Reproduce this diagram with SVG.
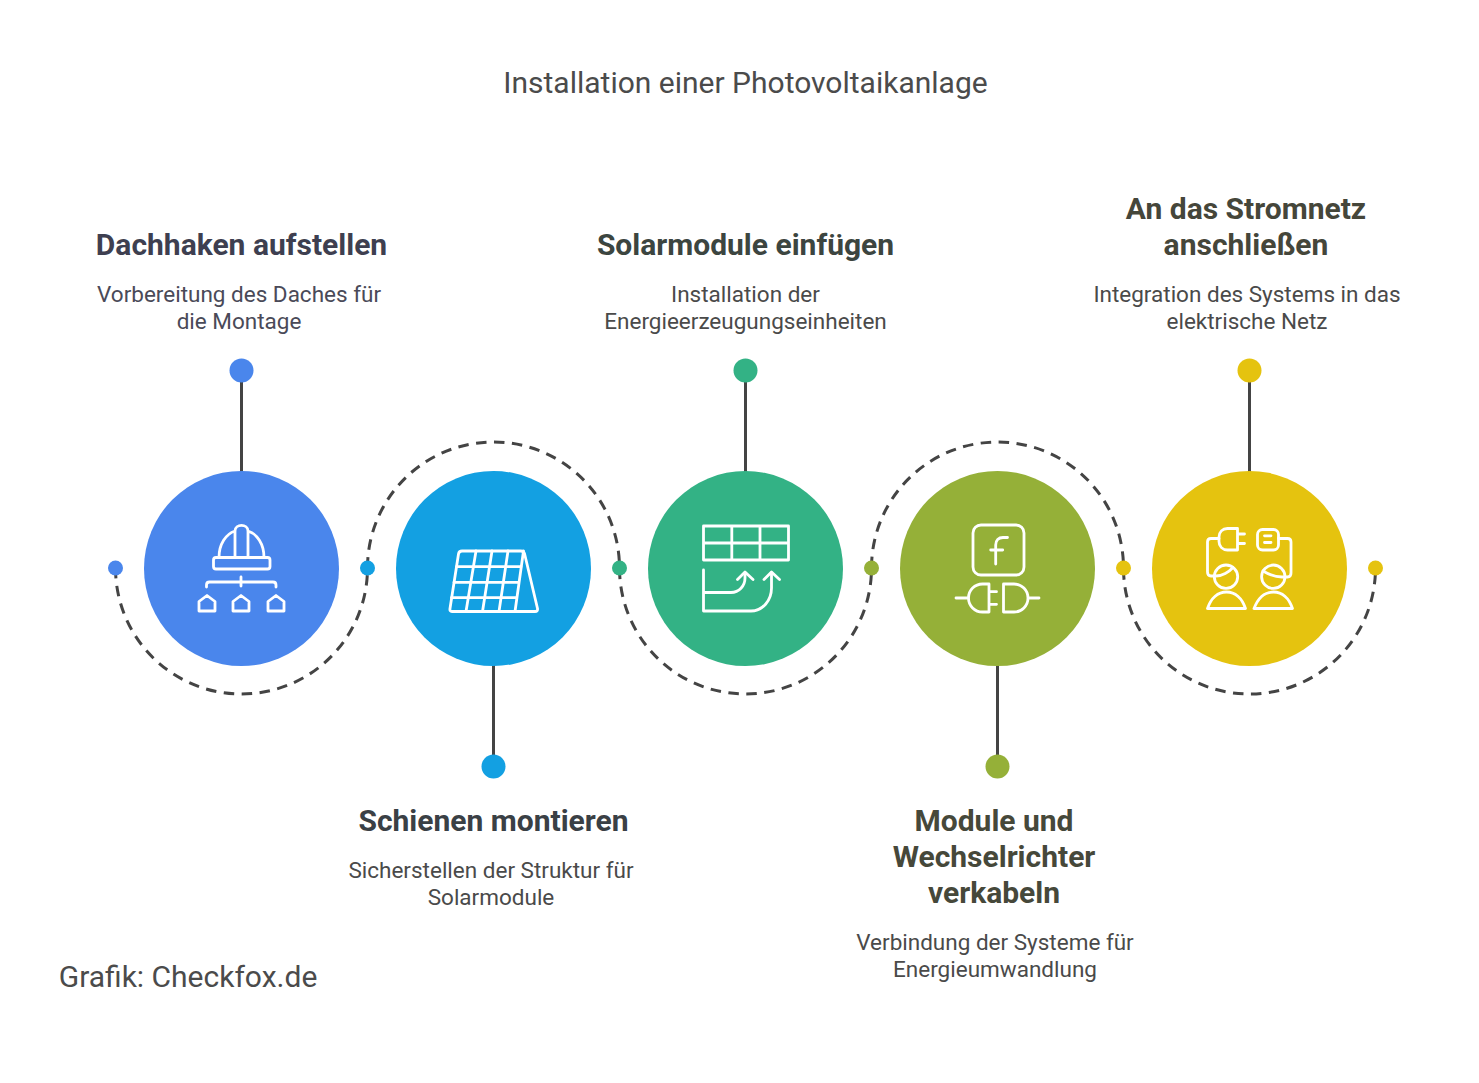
<svg xmlns="http://www.w3.org/2000/svg" width="1479" height="1083" viewBox="0 0 1479 1083">
<style>
text{font-family:Roboto,"Liberation Sans",sans-serif;text-anchor:middle}
.t{font-size:30px;fill:#4b4b4b}
.h{font-size:30px;font-weight:700}
.b{font-size:22.500px;fill:#4a4a4a}
.ic{fill:none;stroke:#fff;stroke-width:2.800;stroke-linecap:round;stroke-linejoin:round}
.st{stroke:#444;stroke-width:3;fill:none}
.da{stroke:#444;stroke-width:3;fill:none;stroke-dasharray:10.5 7.5}
</style>
<rect width="1479" height="1083" fill="#fff"/>
<text class="t" x="745.500" y="93">Installation einer Photovoltaikanlage</text>
<text x="188" y="987" style="font-size:30px;fill:#4b4b4b">Grafik: Checkfox.de</text>
<g id="connectors">
<path class="da" d="M115.500 568A126 126 0 0 0 367.500 568A126 126 0 0 1 619.500 568A126 126 0 0 0 871.500 568A126 126 0 0 1 1123.500 568A126 126 0 0 0 1375.500 568"/>
<path class="st" d="M241.500 370V472M493.500 665V766M745.500 370V472M997.500 665V766M1249.500 370V472"/>
<circle cx="115.500" cy="568" r="7.500" fill="#4a86ec"/>
<circle cx="367.500" cy="568" r="7.500" fill="#13a0e2"/>
<circle cx="619.500" cy="568" r="7.500" fill="#33b285"/>
<circle cx="871.500" cy="568" r="7.500" fill="#95b038"/>
<circle cx="1123.500" cy="568" r="7.500" fill="#e5c30f"/>
<circle cx="1375.500" cy="568" r="7.500" fill="#e5c30f"/>
</g>
<g id="node1">
<circle cx="241.500" cy="568.500" r="97.500" fill="#4a86ec"/>
<circle cx="241.500" cy="370.500" r="12" fill="#4a86ec"/>
<g class="ic">
<rect x="213.500" y="557.500" width="56.500" height="11.500" rx="2.500"/>
<path d="M219 557.500C219 544 226 534 235 531M264 557.500C264 544 257 534 248 531M235 557.500V531C235 523.500 248 523.500 248 531V557.500"/>
<path d="M206.500 587V585Q206.500 582 209.500 582H273Q276 582 276 585V587M241 577V586"/>
<path d="M199 611V601.500L207 595.500L215 601.500V611ZM233 611V601.500L241 595.500L249 601.500V611ZM268 611V601.500L276 595.500L284 601.500V611Z"/>
</g>
<text class="h" x="241.500" y="255" fill="#3e3f50">Dachhaken aufstellen</text>
<text class="b" x="239" y="301.500" style="fill:#4a4a58">Vorbereitung des Daches für</text>
<text class="b" x="239" y="328.500" style="fill:#4a4a58">die Montage</text>
</g>
<g id="node2">
<circle cx="493.500" cy="568.500" r="97.500" fill="#13a0e2"/>
<circle cx="493.500" cy="766.500" r="12" fill="#13a0e2"/>
<g class="ic">
<path d="M462 551H521Q523.500 551 524.500 553.500L537.500 608.500Q538 611.500 535 611.500H452Q449.500 611.500 450 608.500L458.500 554Q459 551 462 551Z"/>
<path d="M456.500 566.700H521.500M454 582.300H519M451.500 597.700H517M476 551L466 611.500M492 551L482.500 611.500M508 551L499 611.500M523.500 551L515 611.500"/>
</g>
<text class="h" x="493.500" y="831" fill="#3a4045">Schienen montieren</text>
<text class="b" x="491" y="877.500">Sicherstellen der Struktur für</text>
<text class="b" x="491" y="904.500">Solarmodule</text>
</g>
<g id="node3">
<circle cx="745.500" cy="568.500" r="97.500" fill="#33b285"/>
<circle cx="745.500" cy="370.500" r="12" fill="#33b285"/>
<g class="ic">
<path d="M703.500 526H788.500V560H703.500ZM703.500 543H788.500M731.800 526V560M760 526V560"/>
<path d="M703.500 570V611H751C763 611 771.500 600 771.500 588V573M703.500 592.500H731C739 592.500 745 586 745 578V573"/>
<path d="M737.500 579.500L745 572L753 579.500M764 579.500L771.500 572L779.500 579.500"/>
</g>
<text class="h" x="745.500" y="255" fill="#3c4540">Solarmodule einfügen</text>
<text class="b" x="745.500" y="301.500">Installation der</text>
<text class="b" x="745.500" y="328.500">Energieerzeugungseinheiten</text>
</g>
<g id="node4">
<circle cx="997.500" cy="568.500" r="97.500" fill="#95b038"/>
<circle cx="997.500" cy="766.500" r="12" fill="#95b038"/>
<g class="ic">
<rect x="973" y="525" width="51" height="50" rx="8"/>
<path d="M1007.500 537.500H1003C998.500 537.500 995.700 540.500 995.700 545V564M990.700 550H1002.700"/>
<path d="M956 598H967.500M989 584H982.500A14 14 0 0 0 982.500 612H989ZM989 591.700H996.500M989 604.300H996.500M1003.500 584H1014A14 14 0 0 1 1014 612H1003.500ZM1028 598H1039"/>
</g>
<text class="h" x="994" y="831" fill="#46483a">Module und</text>
<text class="h" x="994" y="867" fill="#46483a">Wechselrichter</text>
<text class="h" x="994" y="903" fill="#46483a">verkabeln</text>
<text class="b" x="995" y="949.500">Verbindung der Systeme für</text>
<text class="b" x="995" y="976.500">Energieumwandlung</text>
</g>
<g id="node5">
<circle cx="1249.500" cy="568.500" r="97.500" fill="#e5c30f"/>
<circle cx="1249.500" cy="370.500" r="12" fill="#e5c30f"/>
<g class="ic">
<path d="M1237.500 528.500H1227.500C1222.500 528.500 1219 532 1219 537V541.500C1219 546.500 1222.500 550 1227.500 550H1237.500ZM1237.500 534H1244.500M1237.500 543.500H1244.500"/>
<rect x="1257.500" y="529.500" width="21" height="20.500" rx="5"/>
<path d="M1264.500 535.800H1271M1264.500 542.500H1271"/>
<path d="M1219 538.500H1211Q1207.500 538.500 1207.500 542V572Q1207.500 576 1211 576H1216C1222 576 1229 572 1233 567.500"/>
<path d="M1278.500 538.500H1287.500Q1291 538.500 1291 542V573Q1291 577 1287.500 577H1282C1275 577 1268 574 1263 571"/>
<circle cx="1226" cy="576.700" r="11.700"/>
<circle cx="1273.300" cy="576.700" r="11.700"/>
<path d="M1207.500 608.500H1245.500C1242 598 1235 592 1226.500 592C1218 592 1211 598 1207.500 608.500ZM1254 608.500H1292.500C1289 598 1282 592 1273.500 592C1265 592 1258 598 1254 608.500Z"/>
</g>
<text class="h" x="1246" y="219" fill="#45463a">An das Stromnetz</text>
<text class="h" x="1246" y="255" fill="#45463a">anschließen</text>
<text class="b" x="1247" y="301.500">Integration des Systems in das</text>
<text class="b" x="1247" y="328.500">elektrische Netz</text>
</g>
</svg>
